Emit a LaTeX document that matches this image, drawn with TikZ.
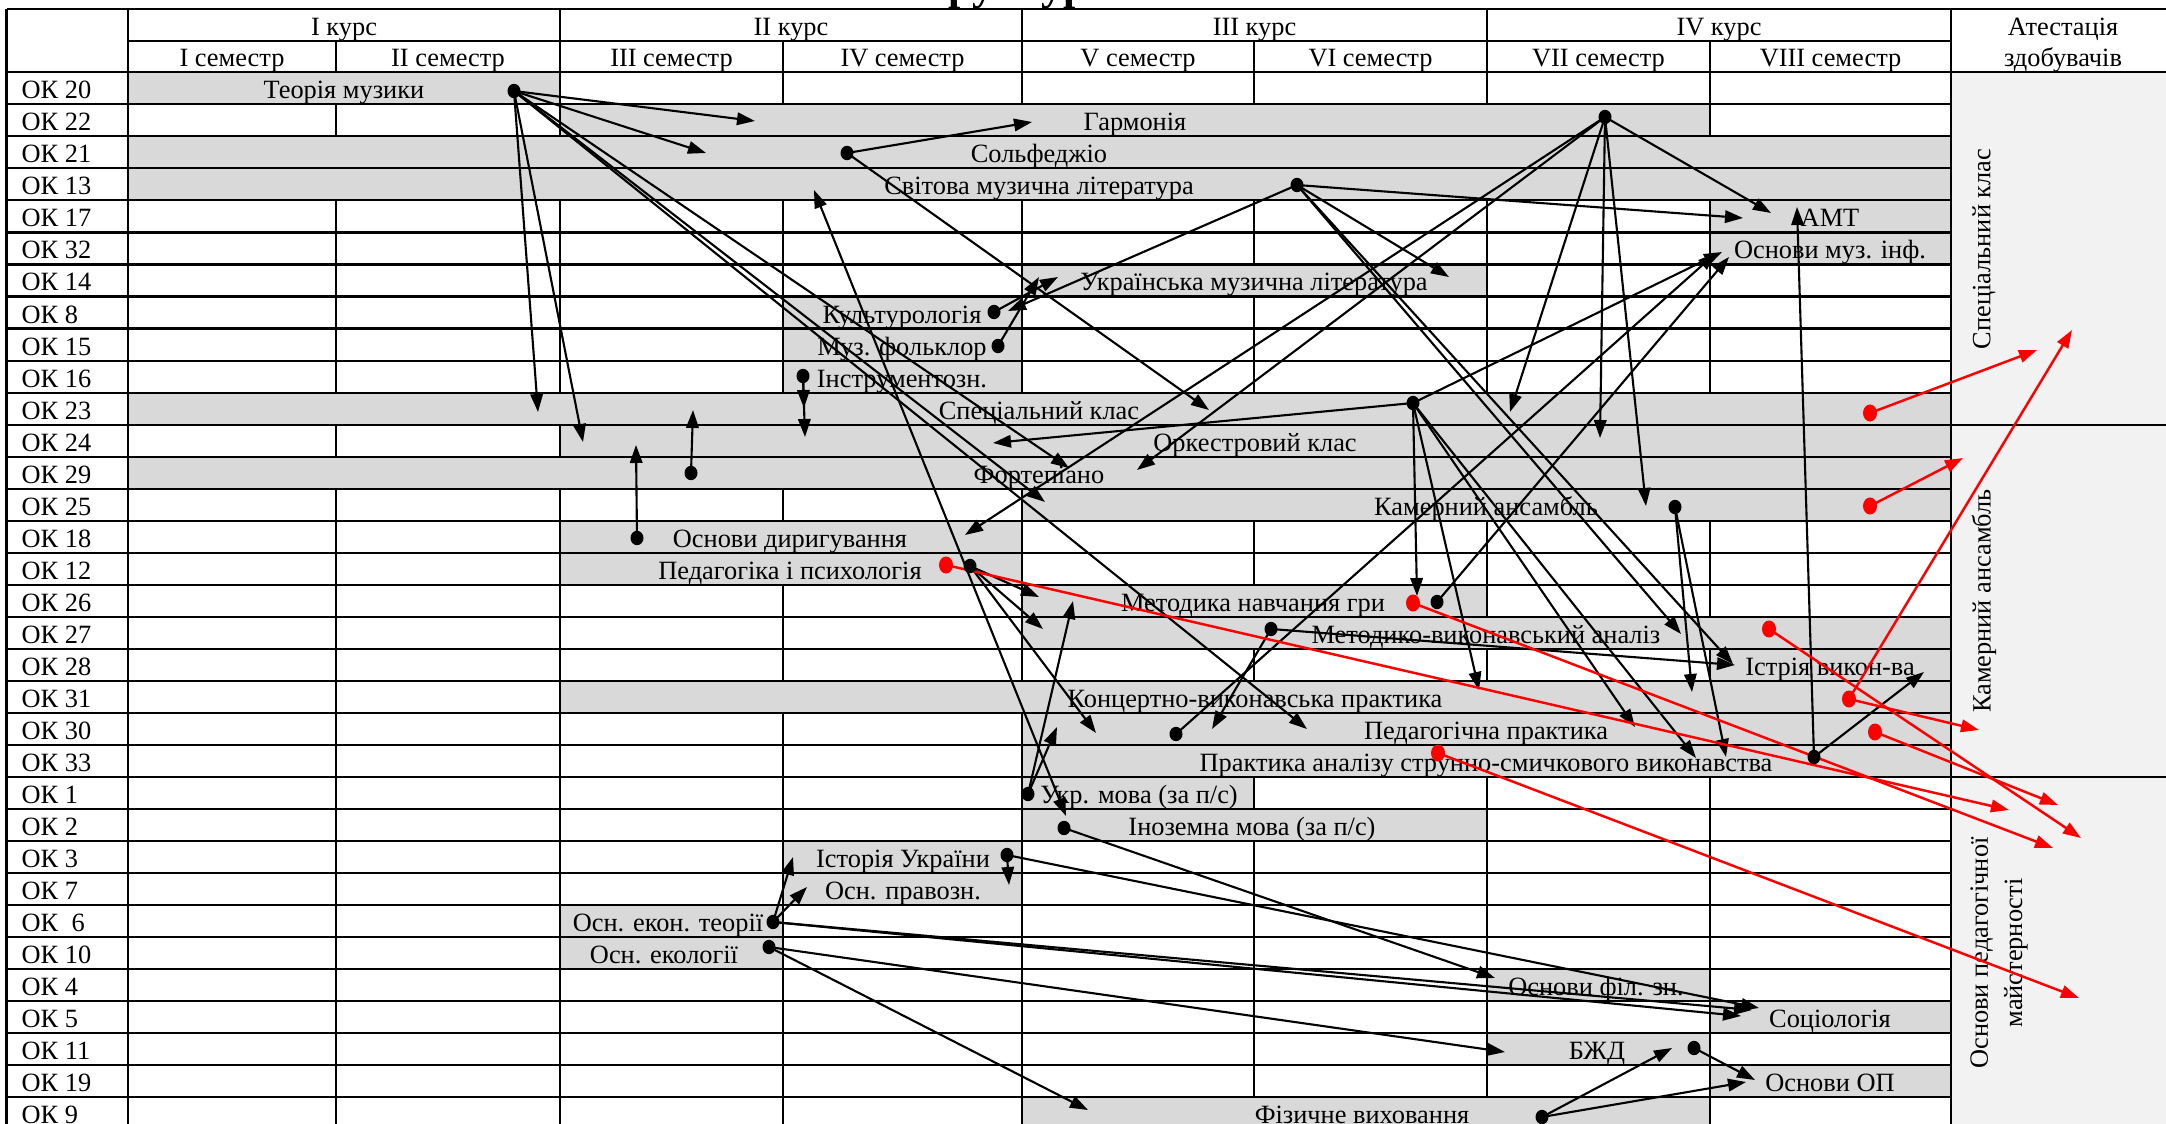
\documentclass[tikz,border=0pt]{standalone}
\usepackage{fontspec}
\setmainfont{Liberation Serif}
\usetikzlibrary{arrows.meta}
\definecolor{barg}{HTML}{D9D9D9}
\definecolor{attg}{HTML}{F2F2F2}
\definecolor{linkred}{HTML}{FF0000}
\newcommand{\mybar}[6]{%
  \fill[barg] (#3,{72.3+32.03*#2}) rectangle (#4,{104.33+32.03*#2});
  \node[txt] (#1) at (#5,{98.8+32.03*#2}) {#6};}
\newcommand{\mysep}[2]{\foreach \xx in {#2}{\draw[tline] (\xx,{72.3+32.03*#1}) -- (\xx,{104.33+32.03*#1});}}
\newcommand{\lnk}[4]{\coordinate (#2) at (#3,#4); \draw[link] (#1) -- (#2);}
\newcommand{\rlnk}[4]{\coordinate (#2) at (#3,#4); \draw[rlink] (#1) -- (#2);}
\begin{document}
\begin{tikzpicture}[x=0.01cm,y=-0.01cm,
  tline/.style={line width=0.6pt},
  txt/.style={font=\fontsize{7.5}{9.7}\selectfont, inner sep=0pt, anchor=base},
  lab/.style={txt, anchor=base west},
  vtxt/.style={font=\fontsize{7.5}{9.7}\selectfont, inner sep=0pt, rotate=90, align=center, anchor=center},
  link/.style={line width=0.6pt, -{Triangle[length=0.18cm,width=0.125cm]}},
  dlink/.style={line width=0.6pt, {Triangle[length=0.18cm,width=0.125cm]}-{Triangle[length=0.18cm,width=0.125cm]}},
  rlink/.style={line width=0.7pt, linkred, -{Triangle[length=0.18cm,width=0.125cm]}}]
\useasboundingbox (0,0) rectangle (2166,1124);
\clip (0,0) rectangle (2166,1124);
\fill[white] (0,0) rectangle (2166,1124);
% title (cut off at the top)
\node[font=\bfseries\fontsize{12.5}{14}\selectfont, inner sep=0pt, anchor=base west] (title) at (895,-1) {Структурно-логічна схема ОП};
% attestation column
\fill[attg] (1951,72.3) rectangle (2166,1124);
% bars
\mybar{b0}{0}{128}{560}{344}{Теорія музики}
\mybar{b1}{1}{560}{1710}{1135}{Гармонія}
\mybar{b2}{2}{128}{1951}{1039}{Сольфеджіо}
\mybar{b3}{3}{128}{1951}{1039}{Світова музична література}
\mybar{b4}{4}{1710}{1951}{1830}{АМТ}
\mybar{b5}{5}{1710}{1951}{1830}{Основи муз. інф.}
\mybar{b6}{6}{1022}{1487}{1254}{Українська музична література}
\mybar{b7}{7}{783}{1022}{902}{Культурологія}
\mybar{b8}{8}{783}{1022}{902}{Муз. фольклор}
\mybar{b9}{9}{783}{1022}{902}{Інструментозн.}
\mybar{b10}{10}{128}{1951}{1039}{Спеціальний клас}
\mybar{b11}{11}{560}{1951}{1255}{Оркестровий клас}
\mybar{b12}{12}{128}{1951}{1039}{Фортепіано}
\mybar{b13}{13}{1022}{1951}{1486}{Камерний ансамбль}
\mybar{b14}{14}{560}{1022}{790}{Основи диригування}
\mybar{b15}{15}{560}{1022}{790}{Педагогіка і психологія}
\mybar{b16}{16}{1022}{1487}{1253}{Методика навчання гри}
\mybar{b17}{17}{1022}{1951}{1486}{Методико-виконавський аналіз}
\mybar{b18}{18}{1710}{1951}{1830}{Істрія викон-ва}
\mybar{b19}{19}{560}{1951}{1255}{Концертно-виконавська практика}
\mybar{b20}{20}{1022}{1951}{1486}{Педагогічна практика}
\mybar{b21}{21}{1022}{1951}{1486}{Практика аналізу струнно-смичкового виконавства}
\mybar{b22}{22}{1022}{1254}{1139}{Укр. мова (за п/с)}
\mybar{b23}{23}{1022}{1487}{1252}{Іноземна мова (за п/с)}
\mybar{b24}{24}{783}{1022}{903}{Історія України}
\mybar{b25}{25}{783}{1022}{903}{Осн. правозн.}
\mybar{b26}{26}{560}{783}{668}{Осн. екон. теорії}
\mybar{b27}{27}{560}{783}{664}{Осн. екології}
\mybar{b28}{28}{1487}{1710}{1596}{Основи філ. зн.}
\mybar{b29}{29}{1710}{1951}{1830}{Соціологія}
\mybar{b30}{30}{1487}{1710}{1597}{БЖД}
\mybar{b31}{31}{1710}{1951}{1830}{Основи ОП}
\mybar{b32}{32}{1022}{1710}{1362}{Фізичне виховання}
% grid: horizontal
\draw[tline] (6.5,9) -- (2166,9);
\draw[tline] (128,41) -- (1951,41);
\foreach \i in {0,...,32}{\draw[tline] (6.5,{72.3+32.03*\i}) -- (1951,{72.3+32.03*\i});}
\draw[tline] (1951,72.3) -- (2166,72.3);
\draw[tline] (1951,424.6) -- (2166,424.6);
\draw[tline] (1951,777) -- (2166,777);
% grid: vertical
\draw[tline] (6.5,9) -- (6.5,1124);
\draw[tline] (128,9) -- (128,1124);
\draw[tline] (1951,9) -- (1951,1124);
\foreach \xx in {560,1022,1487}{\draw[tline] (\xx,9) -- (\xx,72.3);}
\foreach \xx in {336,783,1254,1710}{\draw[tline] (\xx,41) -- (\xx,72.3);}
\mysep{0}{560,783,1022,1254,1487,1710}
\mysep{1}{336,560,1710}
\mysep{4}{336,560,783,1022,1254,1487,1710}
\mysep{5}{336,560,783,1022,1254,1487,1710}
\mysep{6}{336,560,783,1022,1487,1710}
\mysep{7}{336,560,783,1022,1254,1487,1710}
\mysep{8}{336,560,783,1022,1254,1487,1710}
\mysep{9}{336,560,783,1022,1254,1487,1710}
\mysep{11}{336,560}
\mysep{13}{336,560,783,1022}
\mysep{14}{336,560,1022,1254,1487,1710}
\mysep{15}{336,560,1022,1254,1487,1710}
\mysep{16}{336,560,783,1022,1487,1710}
\mysep{17}{336,560,783,1022}
\mysep{18}{336,560,783,1022,1254,1487,1710}
\mysep{19}{336,560}
\mysep{20}{336,560,783,1022}
\mysep{21}{336,560,783,1022}
\foreach \r in {22,24,25,26,27,28,29,30,31}{\mysep{\r}{336,560,783,1022,1254,1487,1710}}
\mysep{23}{336,560,783,1022,1487,1710}
\mysep{32}{336,560,783,1022,1710}
% header texts
\node[txt] (k1) at (344,35.5) {I курс};
\node[txt] (k2) at (791,35.5) {II курс};
\node[txt] (k3) at (1254.5,35.5) {III курс};
\node[txt] (k4) at (1719,35.5) {IV курс};
\node[txt] (s1) at (232,67) {I семестр};
\node[txt] (s2) at (448,67) {II семестр};
\node[txt] (s3) at (671.5,67) {III семестр};
\node[txt] (s4) at (902.5,67) {IV семестр};
\node[txt] (s5) at (1138,67) {V семестр};
\node[txt] (s6) at (1370.5,67) {VI семестр};
\node[txt] (s7) at (1598.5,67) {VII семестр};
\node[txt] (s8) at (1830.5,67) {VIII семестр};
\node[txt] (at1) at (2063,35.5) {Атестація};
\node[txt] (at2) at (2063,67) {здобувачів};
\node[vtxt] (v1) at (1984,249) {Спеціальний клас};
\node[vtxt] (v2) at (1984,601) {Камерний ансамбль};
\node[vtxt] (v3) at (1999,953) {Основи педагогічної\\майстерності};
% row labels
\foreach \t [count=\i from 0] in {ОК 20,ОК 22,ОК 21,ОК 13,ОК 17,ОК 32,ОК 14,ОК 8,ОК 15,ОК 16,ОК 23,ОК 24,ОК 29,ОК 25,ОК 18,ОК 12,ОК 26,ОК 27,ОК 28,ОК 31,ОК 30,ОК 33,ОК 1,ОК 2,ОК 3,ОК 7,ОК\ \ 6,ОК 10,ОК 4,ОК 5,ОК 11,ОК 19,ОК 9}{\node[lab] (lab\i) at (21,{98.8+32.03*\i}) {\t};}
% dots (sources)
\coordinate (d1) at (514,91);
\coordinate (d2) at (847,153);
\coordinate (d3) at (1297,185);
\coordinate (d4) at (1605,117);
\coordinate (d5) at (994,312);
\coordinate (d6) at (998,346);
\coordinate (d7) at (803,376);
\coordinate (d8) at (1413,403);
\coordinate (d9) at (691,473);
\coordinate (d10) at (637,538);
\coordinate (d11) at (970,566);
\coordinate (d12) at (1675,507);
\coordinate (d13) at (1437,602);
\coordinate (d14) at (1271,629);
\coordinate (d15) at (1176,734);
\coordinate (d16) at (1814,757);
\coordinate (d17) at (1028,794);
\coordinate (d18) at (1064,828);
\coordinate (d19) at (1007,855);
\coordinate (d20) at (773,922);
\coordinate (d21) at (769,947);
\coordinate (d22) at (1694,1048);
\coordinate (d23) at (1542,1117);
\coordinate (r1) at (946,565);
\coordinate (r2) at (1413,603);
\coordinate (r3) at (1870,413);
\coordinate (r4) at (1870,506);
\coordinate (r5) at (1769,629);
\coordinate (r6) at (1849,699);
\coordinate (r7) at (1875,732);
\coordinate (r8) at (1438,753);
% black connectors
\lnk{d1}{t1}{755}{121}
\lnk{d1}{t2}{706}{153}
\lnk{d1}{t3}{538}{412}
\lnk{d1}{t4}{583}{442}
\lnk{d1}{t5}{1069}{468}
\lnk{d1}{t6}{1045}{502}
\lnk{d1}{t7}{1307}{729}
\lnk{d2}{t8}{1032}{122}
\lnk{d2}{t9}{1209}{410}
\lnk{d3}{t10}{1743}{218}
\lnk{d3}{t11}{1449}{277}
\lnk{d3}{t12}{1008}{311}
\lnk{d3}{t13}{1681}{634}
\lnk{d3}{t14}{1733}{664}
\lnk{d4}{t15}{1771}{213}
\lnk{d4}{t16}{1510}{412}
\lnk{d4}{t17}{1600}{438}
\lnk{d4}{t18}{1646}{506}
\lnk{d4}{t19}{1137}{470}
\lnk{d4}{t20}{965}{535}
\lnk{d5}{t21}{1058}{277}
\lnk{d6}{t22}{1039}{277}
\lnk{d7}{t23}{804}{408}
\lnk{d7}{t24}{805}{437}
\lnk{d8}{t25}{993}{443}
\lnk{d8}{t26}{1417}{596}
\lnk{d8}{t27}{1479}{690}
\lnk{d8}{t28}{1635}{727}
\lnk{d8}{t29}{1696}{758}
\lnk{d8}{t30}{1722}{252}
\lnk{d9}{t31}{693}{410}
\lnk{d10}{t32}{636}{445}
\lnk{d11}{t33}{1039}{597}
\lnk{d11}{t34}{1043}{629}
\lnk{d11}{t35}{1096}{733}
\lnk{d12}{t37}{1692}{692}
\lnk{d12}{t38}{1726}{757}
\lnk{d13}{t39}{1729}{257}
\lnk{d14}{t40}{1735}{665}
\lnk{d14}{t41}{1212}{729}
\lnk{d15}{t42}{1716}{253}
\lnk{d16}{t43}{1797}{207}
\lnk{d16}{t44}{1924}{672}
\lnk{d17}{t45}{1073}{601}
\lnk{d17}{t46}{1057}{727}
% Іноземна мова <-> Світова музична література (arrowheads at both ends)
\coordinate (t36) at (1066,816);
\coordinate (t47) at (814,190);
\draw[dlink] (t36) -- (t47);
\lnk{d18}{t48}{1495}{978}
\lnk{d19}{t49}{1009}{885}
\lnk{d19}{t50}{1759}{1008}
\lnk{d20}{t51}{793}{857}
\lnk{d20}{t52}{807}{887}
\lnk{d20}{t53}{1741}{1016}
\lnk{d20}{t54}{1752}{1010}
\lnk{d21}{t55}{1505}{1052}
\lnk{d21}{t56}{1088}{1110}
\lnk{d22}{t57}{1755}{1080}
\lnk{d23}{t58}{1672}{1048}
\lnk{d23}{t59}{1746}{1082}
% red connectors
\rlnk{r1}{u1}{2009}{810}
\rlnk{r2}{u2}{2053}{848}
\rlnk{r3}{u3}{2037}{350}
\rlnk{r4}{u4}{1963}{458}
\rlnk{r5}{u5}{2081}{838}
\rlnk{r6}{u6}{2072}{330}
\rlnk{r6}{u7}{1979}{730}
\rlnk{r7}{u8}{2058}{805}
\rlnk{r8}{u9}{2079}{998}
% dots on top
\foreach \d in {d1,d2,d3,d4,d5,d6,d7,d8,d9,d10,d11,d12,d13,d14,d15,d16,d17,d18,d19,d20,d21,d22,d23}{\fill (\d) ellipse [x radius=0.065cm, y radius=0.072cm];}
\foreach \d in {r1,r2,r3,r4,r5,r6,r7,r8}{\fill[linkred] (\d) ellipse [x radius=0.07cm, y radius=0.085cm];}
\end{tikzpicture}
\end{document}
